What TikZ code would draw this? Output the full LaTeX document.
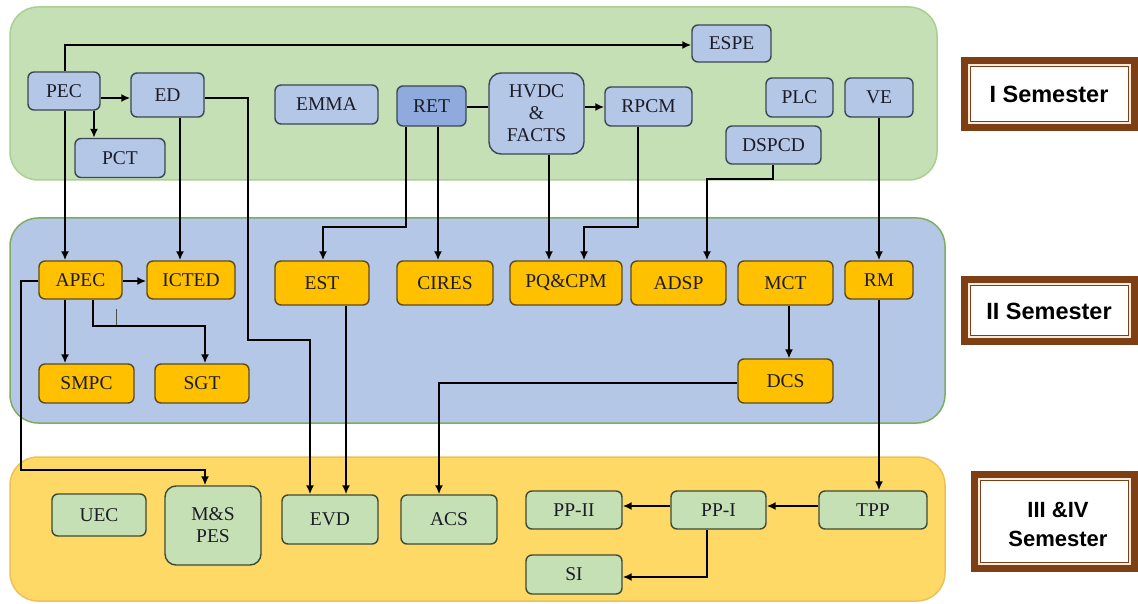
\documentclass[tikz,border=0pt]{standalone}
\usepackage{fontspec}
\setmainfont{Liberation Serif}
\newfontfamily\semfont{Liberation Sans}
\usetikzlibrary{arrows.meta,calc}
\definecolor{panelgreen}{HTML}{C5E0B4}
\definecolor{panelgreenedge}{HTML}{A9CF92}
\definecolor{panelblue}{HTML}{B4C7E7}
\definecolor{panelblueedge}{HTML}{7DAE5E}
\definecolor{panelyellow}{HTML}{FFD966}
\definecolor{panelyellowedge}{HTML}{EDC15A}
\definecolor{topfill}{HTML}{B4C7E7}
\definecolor{topdark}{HTML}{8FAADC}
\definecolor{topedge}{HTML}{3C4654}
\definecolor{midfill}{HTML}{FFC000}
\definecolor{midedge}{HTML}{5E4B16}
\definecolor{botfill}{HTML}{C5E0B4}
\definecolor{botedge}{HTML}{3E4A36}
\definecolor{frbrown}{HTML}{7E3F14}
\definecolor{frcream}{HTML}{F6EBDD}
\definecolor{txt}{HTML}{1C1C28}
\begin{document}
\begin{tikzpicture}[x=1pt,y=-1pt,
  base/.style={rounded corners=6pt, line width=1.4pt, inner sep=0pt, text=txt,
    font=\fontsize{19.5}{22}\selectfont, align=center},
  topbox/.style={base, fill=topfill, draw=topedge},
  retbox/.style={base, fill=topdark, draw=topedge},
  midbox/.style={base, fill=midfill, draw=midedge},
  botbox/.style={base, fill=botfill, draw=botedge},
  conn/.style={line width=2.4pt, draw=black, -{Latex[length=9pt,width=8pt]}},
  plainconn/.style={line width=2.4pt, draw=black},
  thinconn/.style={line width=1.4pt, draw=black, -{Latex[length=9pt,width=8pt]}},
  panel/.style={rounded corners=28pt, line width=1.5pt},
  semtext/.style={font=\semfont\bfseries\fontsize{23.5}{29}\selectfont, align=center, text=black},
]
\useasboundingbox (0,0) rectangle (1138,604);
\fill[white] (0,0) rectangle (1138,604);

% panels
\draw[panel, fill=panelgreen, draw=panelgreenedge] (10,7) rectangle (937,180);
\draw[panel, fill=panelblue, draw=panelblueedge] (10,218) rectangle (945,423);
\draw[panel, fill=panelyellow, draw=panelyellowedge] (10,457) rectangle (945,601);

% semester frames
\foreach \xa/\ya/\yb in {961/57/131, 961/276/345, 971/471/572}{
  \fill[frbrown] (\xa,\ya) rectangle (1138,\yb);
  \fill[frcream] (\xa+7,\ya+7) rectangle (1131,\yb-7);
  \draw[frbrown, line width=1.5pt, fill=white] (\xa+9.5,\ya+9.5) rectangle (1128.5,\yb-9.5);
}
\node[semtext] (sem1) at (1049,94) {I Semester};
\node[semtext] (sem2) at (1049,311) {II Semester};
\node[semtext, font=\semfont\bfseries\fontsize{22}{29}\selectfont] (sem3) at (1058,524) {III \&IV\\Semester};

% I semester nodes
\node[topbox, minimum width=72pt, minimum height=38pt] (PEC) at (64,91) {PEC};
\node[topbox, minimum width=73pt, minimum height=44pt] (ED) at (167.5,95) {ED};
\node[topbox, minimum width=90pt, minimum height=39pt] (PCT) at (120,158) {PCT};
\node[topbox, minimum width=103pt, minimum height=39pt] (EMMA) at (326.5,104.5) {EMMA};
\node[retbox, minimum width=69pt, minimum height=40pt] (RET) at (431.5,106) {RET};
\node[topbox, rounded corners=12pt, minimum width=95pt, minimum height=81pt] (HVDC) at (536.5,113.5) {HVDC\\\&\\FACTS};
\node[topbox, minimum width=87pt, minimum height=39pt] (RPCM) at (648.5,106.5) {RPCM};
\node[topbox, minimum width=79pt, minimum height=37pt] (ESPE) at (731.5,43.5) {ESPE};
\node[topbox, minimum width=67pt, minimum height=39pt] (PLC) at (799.5,97.5) {PLC};
\node[topbox, minimum width=68pt, minimum height=39pt] (VE) at (879,97.5) {VE};
\node[topbox, minimum width=95pt, minimum height=38pt] (DSPCD) at (773.5,145) {DSPCD};

% II semester nodes
\node[midbox, minimum width=83pt, minimum height=38pt] (APEC) at (80.5,280) {APEC};
\node[midbox, minimum width=88pt, minimum height=38pt] (ICTED) at (191,280) {ICTED};
\node[midbox, minimum width=94pt, minimum height=44pt] (EST) at (322,283) {EST};
\node[midbox, minimum width=96pt, minimum height=44pt] (CIRES) at (445,283) {CIRES};
\node[midbox, minimum width=112pt, minimum height=44pt] (PQ) at (566,283) {PQ\&CPM};
\node[midbox, minimum width=95pt, minimum height=44pt] (ADSP) at (678.5,283) {ADSP};
\node[midbox, minimum width=95pt, minimum height=44pt] (MCT) at (785.5,283) {MCT};
\node[midbox, minimum width=68pt, minimum height=38pt] (RM) at (879,280) {RM};
\node[midbox, minimum width=95pt, minimum height=39pt] (SMPC) at (86.5,383.5) {SMPC};
\node[midbox, minimum width=94pt, minimum height=39pt] (SGT) at (202,383.5) {SGT};
\node[midbox, minimum width=95pt, minimum height=44pt] (DCS) at (785.5,381) {DCS};

% III & IV semester nodes
\node[botbox, minimum width=94pt, minimum height=42pt] (UEC) at (99,515) {UEC};
\node[botbox, rounded corners=11pt, minimum width=96pt, minimum height=79pt] (MS) at (213,525.5) {M\&S\\PES};
\node[botbox, minimum width=96pt, minimum height=49pt] (EVD) at (330,519.5) {EVD};
\node[botbox, minimum width=96pt, minimum height=49pt] (ACS) at (449,519.5) {ACS};
\node[botbox, minimum width=96pt, minimum height=38pt] (PPII) at (574,510) {PP-II};
\node[botbox, minimum width=95pt, minimum height=38pt] (PPI) at (718.5,510) {PP-I};
\node[botbox, minimum width=108pt, minimum height=38pt] (TPP) at (873,510) {TPP};
\node[botbox, minimum width=96pt, minimum height=39pt] (SI) at (574,574.5) {SI};

% connectors, I semester
\draw[conn] (PEC.north -| 65,0) |- (ESPE.west |- 0,45);
\draw[conn] (PEC.east |- 0,98) -- (ED.west |- 0,98);
\draw[conn] (PEC.south -| 94,0) -- (PCT.north -| 94,0);
\draw[conn] (PEC.south -| 65,0) -- (APEC.north -| 65,0);
\draw[conn] (ED.south -| 180,0) -- (ICTED.north -| 180,0);
\draw[conn] (ED.east |- 0,98) -| (248,340) -| (EVD.north -| 310,0);
\draw[conn] (RET.south -| 406,0) |- (323,227) -- (EST.north -| 323,0);
\draw[conn] (RET.south -| 438,0) -- (CIRES.north -| 438,0);
\draw[plainconn] (RET.east |- 0,107) -- (HVDC.west |- 0,107);
\draw[conn] (HVDC.east |- 0,107) -- (RPCM.west |- 0,107);
\draw[conn] (HVDC.south -| 549,0) -- (PQ.north -| 549,0);
\draw[conn] (RPCM.south -| 638,0) |- (584,227) -- (PQ.north -| 584,0);
\draw[conn] (DSPCD.south -| 773,0) |- (707,179) -- (ADSP.north -| 707,0);
\draw[conn] (VE.south -| 879,0) -- (RM.north -| 879,0);

% connectors, II semester
\draw[conn] (APEC.east |- 0,281) -- (ICTED.west |- 0,281);
\draw[conn] (APEC.south -| 65,0) -- (SMPC.north -| 65,0);
\draw[conn] (APEC.south -| 93,0) |- (205,326) -- (SGT.north -| 205,0);
\draw[line width=1pt, draw=black!70] (116,309) -- (116,325);
\draw[conn] (APEC.west |- 0,281) -| (21,470) -| (MS.north -| 205,0);
\draw[conn] (EST.south -| 346,0) -- (EVD.north -| 346,0);
\draw[thinconn] (MCT.south -| 789,0) -- (DCS.north -| 789,0);
\draw[conn] (DCS.west |- 0,383) -| (ACS.north -| 439,0);
\draw[conn] (RM.south -| 879,0) -- (TPP.north -| 879,0);

% connectors, III & IV semester
\draw[conn] (TPP.west |- 0,506) -- (PPI.east |- 0,506);
\draw[conn] (PPI.west |- 0,506) -- (PPII.east |- 0,506);
\draw[conn] (PPI.south -| 707,0) |- (SI.east |- 0,577);
\end{tikzpicture}
\end{document}
